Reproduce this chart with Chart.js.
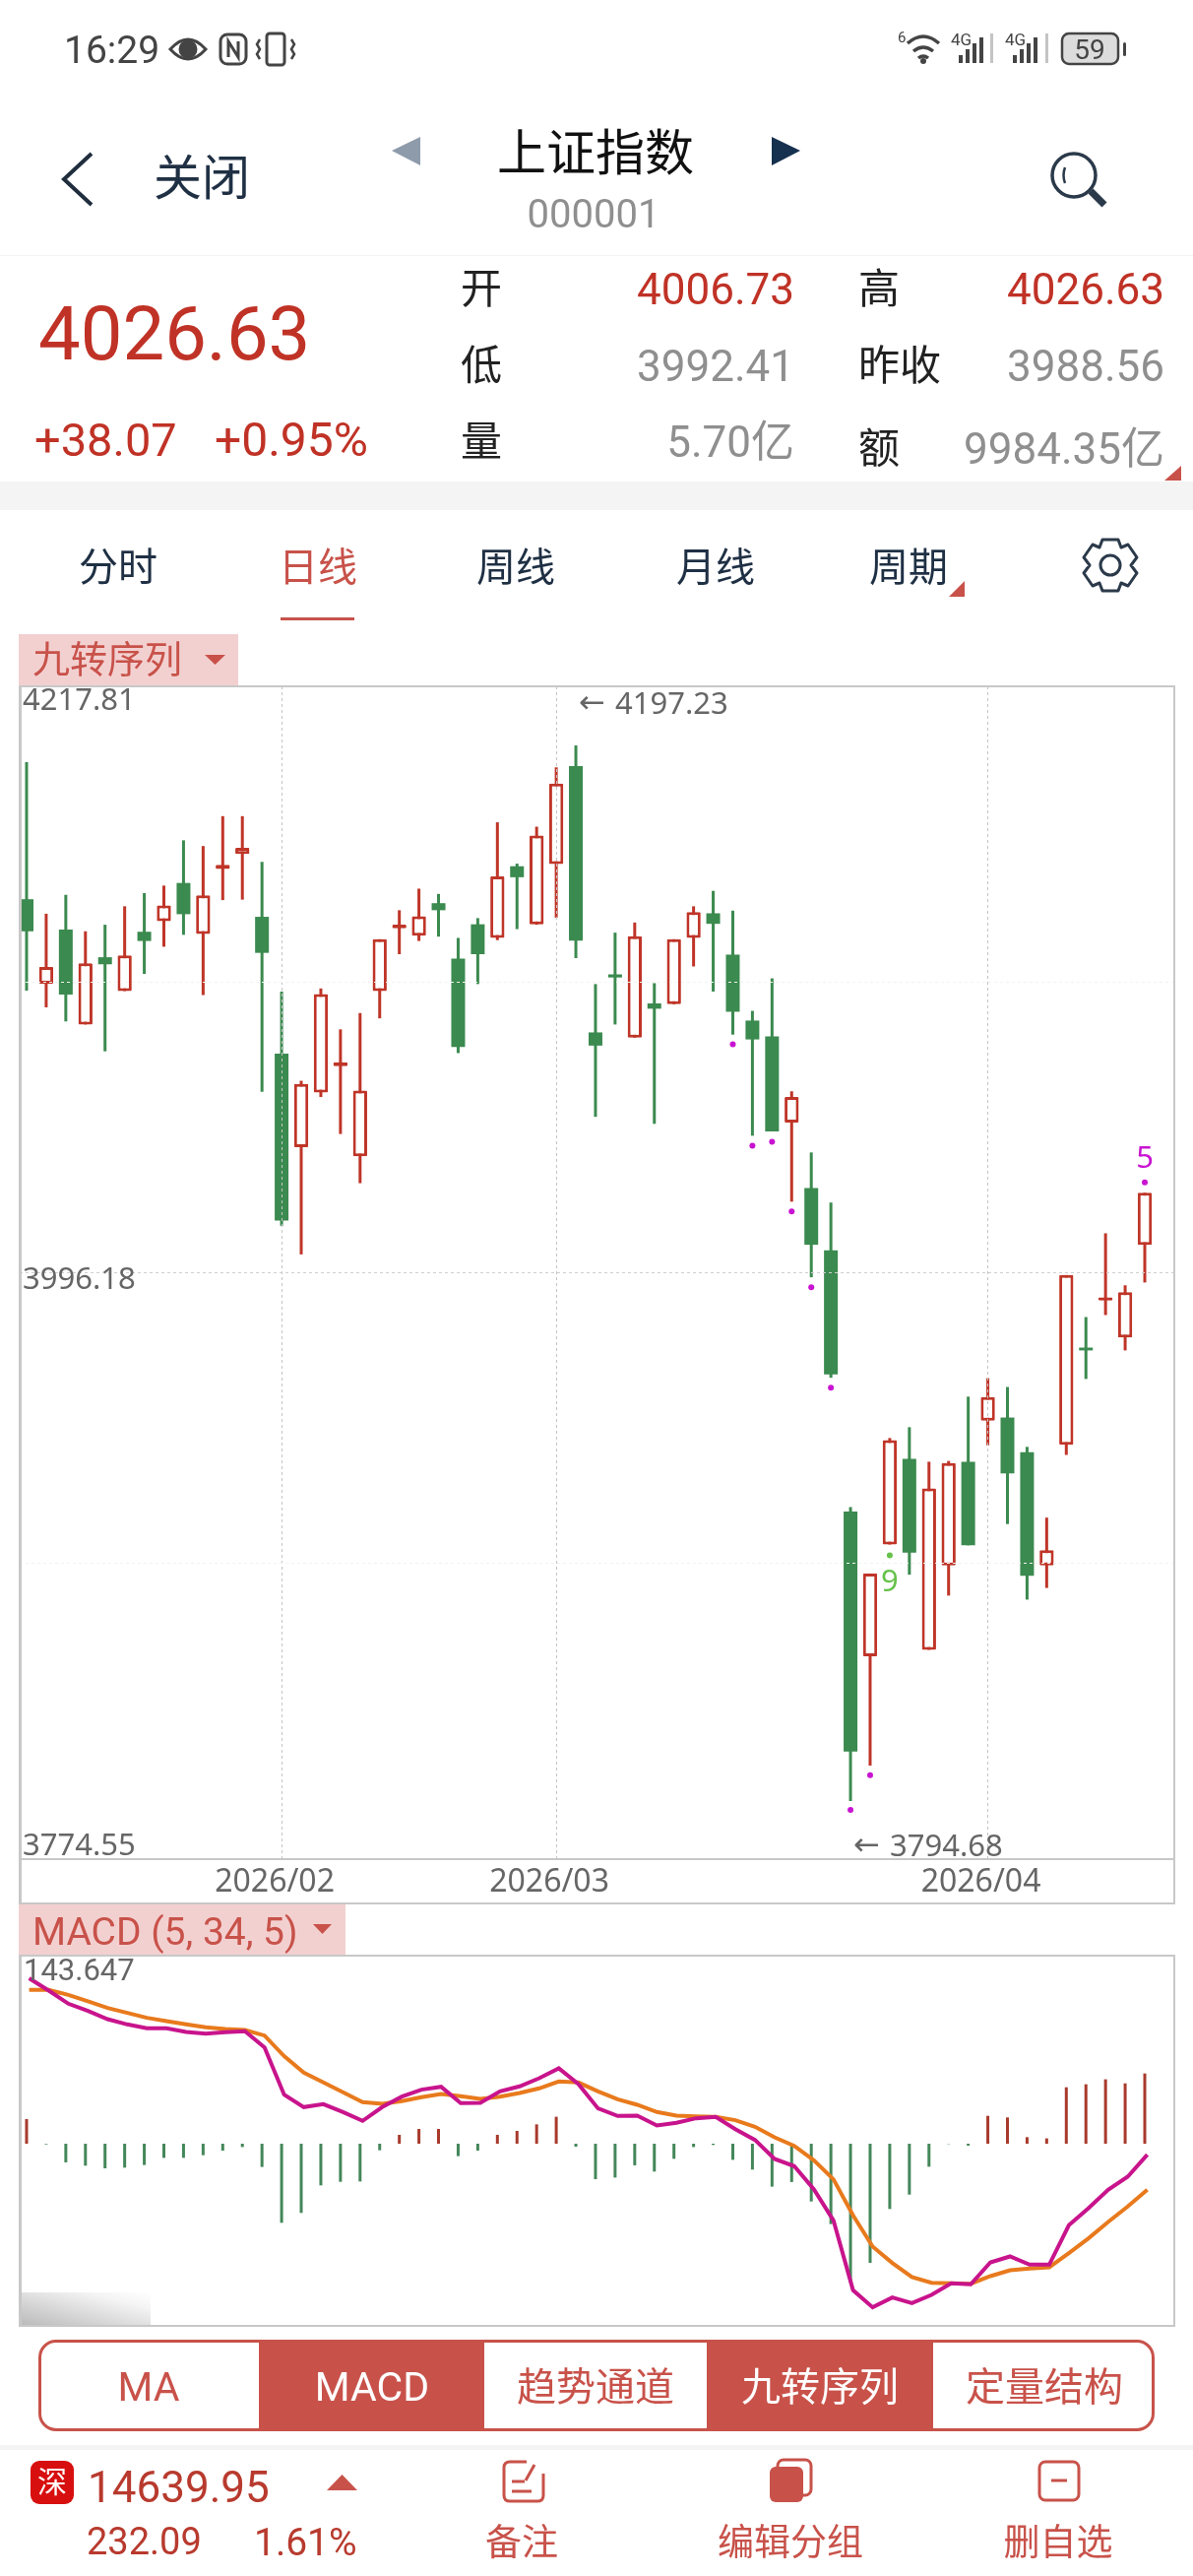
<!DOCTYPE html>
<html lang="zh">
<head>
<meta charset="utf-8">
<title>上证指数</title>
<script src="https://cdn.jsdelivr.net/npm/chart.js@4/dist/chart.umd.js"></script>
<style>
html, body { margin: 0; padding: 0; background: #fff; }
#page { position: relative; width: 1212px; height: 2616px; overflow: hidden; background: #fff; }
#page div, #page span, #page svg, #page canvas { position: absolute; }
#page span { white-space: nowrap; }
.frame { border: 2px solid #c8c8c8; box-sizing: border-box; pointer-events: none; }
</style>
</head>
<body>
<div id="page">
  <!-- bands and label backgrounds -->
  <div style="left:0;top:259px;width:1212px;height:1px;background:#f3f3f3"></div>
  <div style="left:0;top:489px;width:1212px;height:29px;background:#f4f4f4"></div>
  <div style="left:285px;top:627px;width:75px;height:3px;background:#c8524a"></div>
  <div style="left:19px;top:644px;width:223px;height:53px;background:#f3d0d0"></div>
  <div style="left:19px;top:1933px;width:332px;height:53px;background:#f3d0d0"></div>
  <div style="left:20px;top:2328px;width:133px;height:34px;background:linear-gradient(to top right,#b9b9b9,#f4f4f4 75%,#fff)"></div>

  <canvas id="kline" width="1173" height="1236" style="left:20px;top:697px"></canvas>
  <canvas id="macd" width="1173" height="376" style="left:20px;top:1986px"></canvas>

  <div class="frame" style="left:19px;top:696px;width:1175px;height:1238px;border-left-width:3px"></div>
  <div style="left:20px;top:1887px;width:1173px;height:2px;background:#c8c8c8"></div>
  <div class="frame" style="left:19px;top:1985px;width:1175px;height:378px;border-left-width:3px"></div>

  <!-- indicator switch -->
  <div style="left:39px;top:2376px;width:1134px;height:93px;box-sizing:border-box;border:3px solid #c8524a;border-radius:18px"></div>
  <div style="left:263px;top:2376px;width:229px;height:93px;background:#c8524a"></div>
  <div style="left:718px;top:2376px;width:230px;height:93px;background:#c8524a"></div>
  <div style="left:0;top:2483px;width:1212px;height:5px;background:#f4f4f4"></div>
  <div style="left:31px;top:2499px;width:44px;height:44px;border-radius:9px;background:#d80f0f"></div>

  <svg style="left:0;top:0" width="1212" height="2616" fill="none">
    <!-- status bar icons -->
    <g stroke="#444" stroke-width="3">
      <path d="M173 50q18-20 36 0q-18 20-36 0z"/><circle cx="191" cy="50" r="8" fill="#444"/>
      <rect x="224" y="35" width="26" height="30" rx="7"/><path d="M232 58V42l10 16V42"/>
      <rect x="271" y="34" width="18" height="32" rx="3"/>
      <path d="M264 40l-3 5 3 5-3 5 3 5M296 40l3 5-3 5 3 5-3 5" stroke-width="2.5"/>
      <path d="M922 44q16-14 32 0M928 52q10-8 20 0M933 59q5-4 10 0" stroke-width="3.5"/>
    </g>
    <circle cx="938" cy="62" r="3" fill="#444"/>
    <g fill="#444">
      <rect x="974" y="56" width="4" height="8"/><rect x="981" y="50" width="4" height="14"/><rect x="988" y="44" width="4" height="20"/><rect x="995" y="38" width="4" height="26"/>
      <rect x="1029" y="56" width="4" height="8"/><rect x="1036" y="50" width="4" height="14"/><rect x="1043" y="44" width="4" height="20"/><rect x="1050" y="38" width="4" height="26"/>
    </g>
    <g fill="#c4c4c4"><rect x="1006" y="34" width="3" height="30"/><rect x="1062" y="34" width="3" height="30"/></g>
    <rect x="1079" y="34" width="57" height="31" rx="7" fill="#dcdcdc" stroke="#444" stroke-width="2.5"/>
    <rect x="1141" y="43" width="3" height="14" rx="1.5" fill="#444"/>
    <!-- header icons -->
    <path d="M93 156L65 182L93 208" stroke="#1f2d3d" stroke-width="4"/>
    <path d="M427 139V168L398 153z" fill="#8d9bab"/>
    <path d="M784 139V168L813 153z" fill="#16304f"/>
    <circle cx="1091" cy="178" r="22" stroke="#2b3a4a" stroke-width="3.5"/>
    <path d="M1082 170q-3 8 0 16" stroke="#2b3a4a" stroke-width="2.5"/>
    <path d="M1108 194L1122 208" stroke="#2b3a4a" stroke-width="7"/>
    <path d="M1200 473V488H1183z" fill="#c8524a"/>
    <path d="M980 590V606H964z" fill="#c8524a"/>
    <!-- gear -->
    <g stroke="#2b3a4a" stroke-width="3">
      <circle cx="1128" cy="574" r="10"/>
      <path d="M1120 548h16l3 8 7-3 9 13-6 8 6 8-9 13-7-3-3 8h-16l-3-8-7 3-9-13 6-8-6-8 9-13 7 3z" stroke-linejoin="round"/>
    </g>
    <!-- dropdown carets -->
    <path d="M208 665H229L218.500 675z" fill="#c8524a"/>
    <path d="M318 1954H337L327.500 1964z" fill="#c8524a"/>
    <!-- bottom bar -->
    <path d="M332 2529L347.500 2513L363 2529z" fill="#c8524a"/>
    <g stroke="#c8524a" stroke-width="3">
      <path d="M535 2500H518q-6 0-6 6v28q0 6 6 6h28q6 0 6-6v-22"/>
      <path d="M543 2503l-9 16M520 2520h13M520 2530h20"/>
      <rect x="790" y="2498" width="34" height="36" rx="6"/>
      <rect x="1056" y="2500" width="40" height="39" rx="6"/><path d="M1068 2519h16"/>
    </g>
    <rect x="782" y="2505" width="34" height="36" rx="6" fill="#c8524a"/>
  </svg>
</div>

<script>
// Candles, oldest first
const opens = [4138.57, 4106.39, 4127.01, 4090.80, 4116.45, 4103.54, 4126.17, 4130.19, 4144.78, 4125.33,
    4150.14, 4155.84, 4131.87, 4079.73, 4044.03, 4064.81, 4074.87, 4040.50, 4103.54, 4127.51,
    4124.66, 4137.07, 4115.94, 4129.02, 4123.82, 4151.15, 4129.02, 4151.99, 4189.37, 4087.78,
    4109.91, 4085.77, 4098.84, 4098.51, 4123.82, 4133.21, 4117.45, 4092.30, 4086.27, 4053.41,
    4028.43, 4004.63, 3905.04, 3849.86, 3892.47, 3925.12, 3852.31, 3884.50, 3924.05, 3939.68,
    3940.91, 3927.73, 3884.50, 3930.49, 3967.58, 3985.51, 3971.41, 4006.73];
const closes = [4126.34, 4112.76, 4102.20, 4114.10, 4113.76, 4117.12, 4122.65, 4136.23, 4132.87, 4140.08,
    4151.65, 4158.19, 4118.12, 4016.03, 4068.17, 4102.36, 4076.38, 4065.65, 4123.32, 4128.85,
    4132.04, 4134.38, 4082.25, 4117.62, 4147.29, 4146.96, 4162.88, 4182.66, 4122.82, 4082.75,
    4108.73, 4124.49, 4096.83, 4123.32, 4133.71, 4129.19, 4095.66, 4085.10, 4050.06, 4063.14,
    4006.81, 3957.31, 3813.53, 3881.44, 3932.32, 3889.41, 3913.93, 3923.59, 3892.17, 3948.73,
    3919.60, 3880.52, 3890.33, 3995.24, 3966.51, 3986.74, 3988.73, 4026.63];
const highs = [4190.88, 4133.04, 4140.25, 4126.34, 4128.85, 4135.89, 4140.92, 4143.77, 4161.04, 4158.86,
    4170.26, 4170.26, 4152.82, 4103.37, 4069.34, 4104.54, 4088.95, 4095.16, 4123.32, 4134.38,
    4142.60, 4140.59, 4123.82, 4131.37, 4167.91, 4152.15, 4166.23, 4188.87, 4197.23, 4106.22,
    4125.83, 4129.69, 4106.56, 4123.32, 4135.89, 4141.76, 4134.22, 4095.99, 4108.40, 4065.32,
    4042.01, 4022.90, 3906.73, 3881.44, 3933.09, 3937.23, 3924.05, 3924.35, 3948.88, 3955.93,
    3952.56, 3929.72, 3902.74, 3995.24, 3979.23, 4011.17, 3991.34, 4026.63];
const lows = [4103.71, 4097.33, 4091.97, 4090.80, 4080.57, 4103.54, 4110.08, 4120.47, 4125.00, 4102.03,
    4138.24, 4138.41, 4065.15, 4014.02, 4003.12, 4063.14, 4049.05, 4030.28, 4093.14, 4117.62,
    4122.65, 4124.32, 4079.90, 4106.22, 4122.98, 4127.17, 4128.85, 4131.53, 4116.11, 4055.59,
    4090.80, 4085.77, 4052.91, 4098.51, 4112.93, 4103.37, 4086.94, 4048.38, 4050.06, 4023.24,
    3994.40, 3956.08, 3794.68, 3808.17, 3892.47, 3880.98, 3852.31, 3873.01, 3892.17, 3930.33,
    3900.29, 3871.47, 3875.92, 3926.65, 3955.62, 3979.99, 3966.51, 3992.41];

// Nine-turn sequence dots
const seqIndex = [36, 37, 38, 39, 40, 41, 42, 43, 57];
const seqValues = [4083.25, 4044.53, 4046.04, 4019.55, 3990.55, 3952.25, 3791.31, 3804.49, 4030.61];
const nineIndex = [44];
const nineValues = [3888.33];

// Axes
const yTicks = [4217.81, 4107.00, 3996.18, 3885.36, 3774.55];
const yLabels = ['4217.81', '', '3996.18', '', '3774.55'];
const monthIndex = [13, 27, 49];
const monthLabels = ['2026/02', '2026/03', '2026/04'];

// MACD (5, 34, 5)
const dif = [143.65, 132.96, 121.56, 115.29, 108.16, 103.61, 100.18, 100.18, 97.05, 95.62,
    96.76, 97.62, 83.65, 42.61, 31.78, 34.35, 27.50, 19.81, 31.78, 40.90,
    46.89, 49.45, 35.20, 35.48, 45.46, 49.74, 56.86, 65.41, 51.73, 30.64,
    24.08, 24.37, 15.82, 18.10, 22.09, 23.23, 12.68, 3.28, -13.25, -19.52,
    -39.48, -66.55, -127.26, -142.08, -133.53, -138.38, -131.25, -121.27, -122.13, -103.03,
    -97.90, -105.03, -105.03, -70.83, -56.01, -40.05, -28.64, -9.55];
const dea = [133.53, 133.53, 129.26, 123.56, 117.86, 113.58, 109.30, 106.45, 103.61, 101.04,
    99.61, 98.76, 93.91, 75.96, 61.71, 53.16, 44.61, 36.05, 34.63, 36.91,
    40.33, 43.18, 41.19, 38.91, 40.90, 44.04, 48.03, 54.01, 53.16, 45.46,
    38.62, 33.77, 27.50, 24.37, 23.80, 23.23, 20.38, 14.68, 5.56, -1.85,
    -14.39, -30.92, -62.28, -89.35, -103.60, -115.86, -120.71, -121.27, -121.56, -115.00,
    -109.87, -108.45, -107.31, -95.05, -82.23, -67.98, -54.58, -40.05];
const hist = [21.4, -0.6, -16.2, -19.1, -21.4, -20.8, -18.5, -12.3, -12.3, -10.0,
    -6.0, -2.9, -20.2, -68.7, -60.1, -36.2, -33.1, -32.8, -5.7, 7.7,
    12.8, 12.8, -10.8, -6.0, 7.7, 11.1, 16.8, 23.4, -2.6, -30.8,
    -29.4, -18.8, -24.2, -13.1, -2.9, -1.1, -14.0, -22.5, -37.3, -33.3,
    -50.2, -69.8, -120.6, -103.5, -56.7, -44.2, -20.0, -0.3, -1.7, 24.2,
    22.8, 5.7, 4.6, 49.0, 51.6, 55.9, 52.4, 61.0];

const UP = '#bf3528';
const DOWN = '#3b8a4f';
const HEAD = 'Roboto, "Noto Sans CJK SC", sans-serif';
const NAVY = '#1f3044';
const RED = '#c03226';
const SOFT = '#c8524a';
const GRAY = '#8f8f8f';

// ── page chrome ────────────────────────────────────────────
function txt(str, x, cy, size, color, align = 'l', font = HEAD) {
    const el = document.createElement('span');
    el.textContent = str;
    el.style.cssText = `left:${x}px;top:${cy - size * 0.6}px;font:${size}px/${size * 1.2}px ${font};color:${color};`
        + (align === 'c' ? 'transform:translateX(-50%);' : align === 'r' ? 'transform:translateX(-100%);' : '');
    document.getElementById('page').appendChild(el);
}

txt('16:29', 65, 51, 39, '#444');
txt('6', 912, 38, 15, '#444');
txt('4G', 966, 40, 17, '#444');
txt('4G', 1021, 40, 17, '#444');
txt('59', 1107, 51, 28, '#444', 'c');

txt('关闭', 156, 182, 49, NAVY);
txt('上证指数', 605, 156, 50, '#111', 'c');
txt('000001', 603, 218, 40, GRAY, 'c');

txt('4026.63', 39, 340, 76, RED);
txt('+38.07', 35, 447, 47, RED);
txt('+0.95%', 218, 447, 48, RED);

txt('开', 468, 294, 42, '#222');
txt('低', 468, 372, 42, '#222');
txt('量', 468, 449, 42, '#222');
txt('4006.73', 807, 294, 44, RED, 'r');
txt('3992.41', 807, 372, 44, GRAY, 'r');
txt('5.70亿', 807, 449, 44, GRAY, 'r');
txt('高', 872, 294, 42, '#222');
txt('昨收', 872, 372, 42, '#222');
txt('额', 872, 456, 42, '#222');
txt('4026.63', 1183, 294, 44, RED, 'r');
txt('3988.56', 1183, 372, 44, GRAY, 'r');
txt('9984.35亿', 1183, 456, 44, GRAY, 'r');

txt('分时', 120, 577, 40, NAVY, 'c');
txt('日线', 323, 577, 40, SOFT, 'c');
txt('周线', 524, 577, 40, NAVY, 'c');
txt('月线', 727, 577, 40, NAVY, 'c');
txt('周期', 923, 577, 40, NAVY, 'c');

txt('九转序列', 33, 671, 38, SOFT);
txt('MACD (5, 34, 5)', 33, 1962, 39, SOFT);

txt('MA', 151, 2425, 41, SOFT, 'c');
txt('MACD', 378, 2425, 41, '#fff', 'c');
txt('趋势通道', 605, 2425, 40, SOFT, 'c');
txt('九转序列', 833, 2425, 40, '#fff', 'c');
txt('定量结构', 1061, 2425, 40, SOFT, 'c');

txt('深', 53, 2521, 30, '#fff', 'c');
txt('14639.95', 89, 2526, 44, '#b83a2e');
txt('232.09', 88, 2582, 38, '#b83a2e');
txt('1.61%', 258, 2582, 39, '#b83a2e');
txt('备注', 530, 2583, 37, SOFT, 'c');
txt('编辑分组', 803, 2583, 37, SOFT, 'c');
txt('删自选', 1075, 2583, 37, SOFT, 'c');

// ── charts ─────────────────────────────────────────────────
const LABEL_FONT = '31px "Noto Sans", sans-serif';
const ARROW_FONT = '32px "DejaVu Sans", sans-serif';
const xRange = { min: -0.351, max: 58.505, offset: false };
const bars = (idx, lo, hi) => idx.map(i => ({ x: i, y: [lo[i], hi[i]] }));
const allIdx = closes.map((_, i) => i);
const upIdx = allIdx.filter(i => closes[i] >= opens[i]);
const downIdx = allIdx.filter(i => closes[i] < opens[i]);
const points = (idx, values) => idx.map((x, k) => ({ x, y: values[k] }));

// axis numbers and marker captions sit off their ticks, so they are painted here
const klineLabels = {
    id: 'klineLabels',
    afterDraw(chart) {
        const { ctx, scales: { x, y } } = chart;
        const put = (str, px, py, color, align = 'left') => {
            ctx.fillStyle = color;
            ctx.textAlign = align;
            ctx.fillText(str, px, py);
        };
        const pointer = (value, px, py) => {
            ctx.font = ARROW_FONT;
            put('←', px, py, '#666');
            ctx.font = LABEL_FONT;
            put(value.toFixed(2), px + 37, py, '#666');
        };
        ctx.save();
        ctx.font = LABEL_FONT;
        ctx.textBaseline = 'middle';
        const shift = [10, 0, 8, 0, -7];
        yTicks.forEach((v, i) => {
            if (yLabels[i]) put(yLabels[i], 3, y.getPixelForValue(v) + shift[i], '#666');
        });
        put('5', x.getPixelForValue(57), y.getPixelForValue(seqValues[8]) - 24, '#c814d2', 'center');
        put('9', x.getPixelForValue(44), y.getPixelForValue(nineValues[0]) + 28, '#66c24a', 'center');
        pointer(highs[28], x.getPixelForValue(28) + 3, y.getPixelForValue(highs[28]) - 41);
        pointer(lows[42], x.getPixelForValue(42) + 3, y.getPixelForValue(lows[42]) + 47);
        ctx.restore();
    },
};

new Chart(document.getElementById('kline'), {
    data: {
        datasets: [
            { type: 'scatter', data: points(seqIndex, seqValues), backgroundColor: '#c814d2', pointRadius: 3, borderWidth: 0 },
            { type: 'scatter', data: points(nineIndex, nineValues), backgroundColor: '#66c24a', pointRadius: 3, borderWidth: 0 },
            {
                type: 'bar', data: bars(upIdx, opens, closes), grouped: false, maxBarThickness: 16,
                backgroundColor: '#fff', borderColor: UP, borderWidth: 3, borderSkipped: false, borderRadius: 1,
            },
            { type: 'bar', data: bars(downIdx, closes, opens), grouped: false, maxBarThickness: 14, backgroundColor: DOWN },
            { type: 'bar', data: bars(upIdx, lows, highs), grouped: false, maxBarThickness: 3, backgroundColor: UP },
            { type: 'bar', data: bars(downIdx, lows, highs), grouped: false, maxBarThickness: 3, backgroundColor: DOWN },
        ],
    },
    options: {
        responsive: false,
        animation: false,
        layout: { padding: 0, autoPadding: false },
        plugins: { legend: { display: false }, tooltip: { enabled: false } },
        scales: {
            x: {
                type: 'linear', ...xRange,
                afterBuildTicks: s => { s.ticks = monthIndex.map(value => ({ value })); },
                afterFit: s => { s.height = 45; s.paddingLeft = 0; s.paddingRight = 0; },
                grid: { color: '#c4c4c4', drawTicks: false, offset: false, z: 1 },
                border: { display: false, dash: [3, 3] },
                ticks: {
                    autoSkip: false, maxRotation: 0, padding: 5, labelOffset: -7,
                    color: '#666', font: { family: '"Noto Sans"', size: 32 },
                    callback: v => monthLabels[monthIndex.indexOf(v)],
                },
            },
            y: {
                min: 3772.5, max: 4219.76,
                afterBuildTicks: s => { s.ticks = yTicks.map(value => ({ value })); },
                afterFit: s => { s.width = 0; },
                grid: {
                    drawTicks: false, z: 1,
                    color: c => (c.index === 2 ? '#cfcfcf' : c.index === 0 || c.index === 4 ? 'rgba(0,0,0,0)' : '#f2f2f2'),
                },
                border: { display: false, dash: [3, 3] },
                ticks: { display: false },
            },
        },
    },
    plugins: [klineLabels],
});

const macdLabels = {
    id: 'macdLabels',
    afterDraw(chart) {
        const { ctx } = chart;
        ctx.save();
        ctx.font = '31px Roboto, sans-serif';
        ctx.fillStyle = '#666';
        ctx.textBaseline = 'middle';
        ctx.fillText('143.647', 4, 17);
        ctx.restore();
    },
};

const lineShift = 0.13;
new Chart(document.getElementById('macd'), {
    data: {
        datasets: [
            {
                type: 'line', data: dif.map((y, i) => ({ x: i + lineShift, y })),
                borderColor: '#c8148c', borderWidth: 4, pointRadius: 0, tension: 0,
            },
            {
                type: 'line', data: dea.map((y, i) => ({ x: i + lineShift, y })),
                borderColor: '#e87a1d', borderWidth: 4, pointRadius: 0, tension: 0,
            },
            {
                type: 'bar', data: hist.map((y, x) => ({ x, y })), grouped: false, maxBarThickness: 3,
                backgroundColor: c => (c.raw.y >= 0 ? '#a83a2c' : '#44875a'),
            },
        ],
    },
    options: {
        responsive: false,
        animation: false,
        layout: { padding: 0, autoPadding: false },
        plugins: { legend: { display: false }, tooltip: { enabled: false } },
        scales: {
            x: {
                type: 'linear', ...xRange, display: true,
                afterFit: s => { s.height = 0; },
                grid: { display: false }, border: { display: false }, ticks: { display: false },
            },
            y: {
                min: -158.2, max: 163.3,
                afterFit: s => { s.width = 0; },
                grid: { display: false }, border: { display: false }, ticks: { display: false },
            },
        },
    },
    plugins: [macdLabels],
});
</script>
</body>
</html>
